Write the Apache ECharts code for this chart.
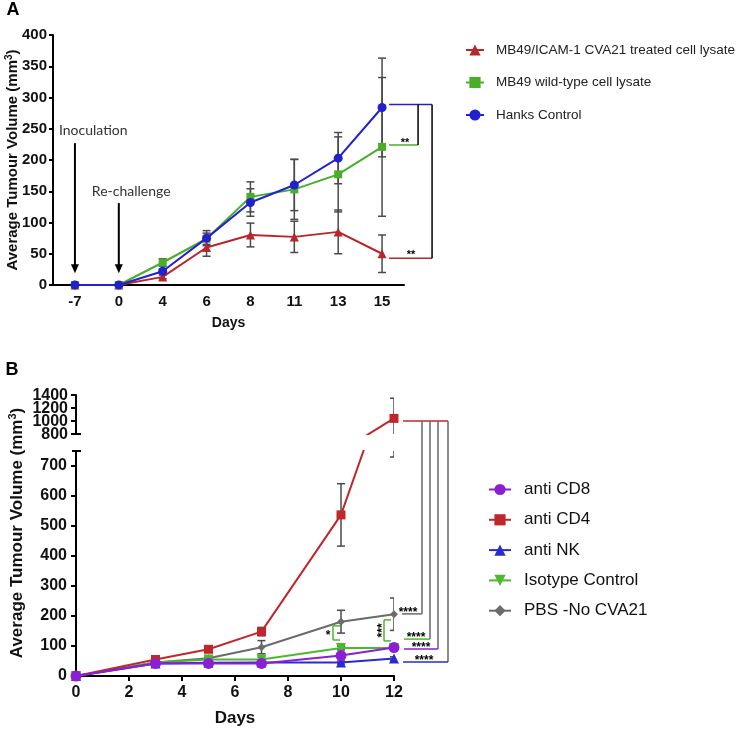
<!DOCTYPE html>
<html>
<head>
<meta charset="utf-8">
<script src="https://cdn.jsdelivr.net/npm/echarts@6/dist/echarts.min.js"></script>
<style>
html,body{margin:0;padding:0;background:#fff;}
#chart{width:744px;height:731px;}
</style>
</head>
<body>
<div id="chart"></div>
<script>
// ---------- Panel A data ----------
const daysA = ['-7', '0', '4', '6', '8', '11', '13', '15'];
const namesA = ['MB49/ICAM-1 CVA21 treated cell lysate', 'MB49 wild-type cell lysate', 'Hanks Control'];
const redA = [0, 0, 13, 60, 80, 77, 85, 50];
const greenA = [0, 0, 36, 74, 141, 153, 177, 221];
const blueA = [0, 0, 22, 75, 132, 160, 203, 284];
const redSemA = [0, 0, 3, 14, 19, 25, 35, 30];
const greenSemA = [0, 0, 6, 9, 24, 48, 60, 111];
const blueSemA = [0, 0, 4, 12, 22, 41, 41, 79];
const sigLevelsA = { blue: 289, green: 224, red: 43 };

// ---------- Panel B data ----------
const daysB = [0, 3, 5, 7, 10, 12];
const namesB = ['anti CD8', 'anti CD4', 'anti NK', 'Isotype Control', 'PBS -No CVA21'];
const cd8 = [0, 42, 42, 42, 68, 95];
const cd4 = [0, 55, 89, 148, 537, 1040];
const nk = [0, 42, 44, 45, 45, 58];
const iso = [0, 45, 55, 55, 93, 93];
const pbs = [0, 45, 59, 96, 181, 206];
const cd8Sem = [0, 4, 4, 4, 8, 8];
const cd4Sem = [0, 5, 10, 14, 104, 310];
const nkSem = [0, 3, 3, 3, 5, 6];
const isoSem = [0, 4, 6, 8, 6, 6];
const pbsSem = [0, 4, 5, 22, 38, 54];
const lowerTicksB = [0, 100, 200, 300, 400, 500, 600, 700];
const upperTicksB = [800, 1000, 1200, 1400];
const sigLevelsB = { cd4: 1000, pbs: 207, iso: 123, cd8: 90, nk: 47 };
const bracketsB = [{ day: 10, top: 167, bottom: 120, stars: '*' }, { day: 12, top: 187, bottom: 117, stars: '***' }];

const FONT = "'Liberation Sans', Arial, Helvetica, sans-serif";
const C = {
  redA: '#b8262b', greenA: '#4aad2a', blueA: '#2222cc',
  cd8: '#8a1fd4', cd4: '#c0272d', nk: '#2a2ad2', iso: '#4cb82e', pbs: '#6b6b6b',
  err: '#4a4a4a'
};

const chart = echarts.init(document.getElementById('chart'), null, { renderer: 'canvas' });

function errRender(color) {
  return function (params, api) {
    const p1 = api.coord([api.value(0), api.value(1)]);
    const p2 = api.coord([api.value(0), api.value(2)]);
    const w = 4;
    const st = { stroke: color, lineWidth: 1.5 };
    return {
      type: 'group', children: [
        { type: 'line', shape: { x1: p1[0], y1: p1[1], x2: p2[0], y2: p2[1] }, style: st },
        { type: 'line', shape: { x1: p1[0] - w, y1: p1[1], x2: p1[0] + w, y2: p1[1] }, style: st },
        { type: 'line', shape: { x1: p2[0] - w, y1: p2[1], x2: p2[0] + w, y2: p2[1] }, style: st }
      ]
    };
  };
}
function errDataCat(vals, sems) {
  const out = [];
  vals.forEach((v, i) => { if (sems[i] > 0) out.push([i, v - sems[i], v + sems[i]]); });
  return out;
}
function errDataVal(xs, vals, sems) {
  const out = [];
  vals.forEach((v, i) => { if (sems[i] > 0) out.push([xs[i], v - sems[i], v + sems[i]]); });
  return out;
}
function pairs(xs, ys) { return xs.map((x, i) => [x, ys[i]]); }

const axisLineStyle = { color: '#000', width: 2 };
const tickStyle = { color: '#000', width: 2 };
const labelA = { fontFamily: FONT, fontWeight: 'bold', fontSize: 15, color: '#111' };
const labelB = { fontFamily: FONT, fontWeight: 'bold', fontSize: 16, color: '#111' };
const plain = v => String(v);

function lineSeries(name, data, color, symbol, size, xi, yi, z, extra) {
  return Object.assign({
    type: 'line', name: name, data: data, xAxisIndex: xi, yAxisIndex: yi,
    symbol: symbol, symbolSize: size, showSymbol: true, color: color,
    itemStyle: { color: color }, lineStyle: { color: color, width: 2 }, z: z, clip: true
  }, extra || {});
}

const option = {
  animation: false,
  backgroundColor: '#ffffff',
  grid: [
    { left: 53, top: 35, width: 351, height: 250 },
    { left: 76, top: 451, width: 318, height: 225 },
    { left: 76, top: 395, width: 318, height: 39 }
  ],
  xAxis: [
    {
      gridIndex: 0, type: 'category', data: daysA, boundaryGap: true,
      axisLine: { lineStyle: axisLineStyle },
      axisTick: { alignWithLabel: true, length: 5, lineStyle: tickStyle },
      axisLabel: Object.assign({ margin: 9, interval: 0 }, labelA),
      splitLine: { show: false },
      name: 'Days', nameLocation: 'middle', nameGap: 31,
      nameTextStyle: { fontFamily: FONT, fontWeight: 'bold', fontSize: 14, color: '#111' }
    },
    {
      gridIndex: 1, type: 'value', min: 0, max: 12, interval: 2,
      axisLine: { show: true, onZero: false, lineStyle: axisLineStyle },
      axisTick: { show: true, length: 5, lineStyle: tickStyle },
      axisLabel: Object.assign({ margin: 9, formatter: plain }, labelB),
      splitLine: { show: false },
      name: 'Days', nameLocation: 'middle', nameGap: 34,
      nameTextStyle: { fontFamily: FONT, fontWeight: 'bold', fontSize: 17, color: '#111' }
    },
    { gridIndex: 2, type: 'value', min: 0, max: 12, show: false }
  ],
  yAxis: [
    {
      gridIndex: 0, type: 'value', min: 0, max: 400, interval: 50,
      axisLine: { show: true, lineStyle: axisLineStyle },
      axisTick: { show: true, length: 4, lineStyle: tickStyle },
      axisLabel: Object.assign({ margin: 6, formatter: plain }, labelA),
      splitLine: { show: false }
    },
    {
      gridIndex: 1, type: 'value', min: 0, max: 750, interval: 100,
      axisLine: { show: true, onZero: false, lineStyle: axisLineStyle },
      axisTick: { show: true, length: 5, lineStyle: tickStyle, customValues: lowerTicksB },
      axisLabel: Object.assign({ margin: 9, customValues: lowerTicksB, formatter: plain, hideOverlap: false }, labelB),
      splitLine: { show: false }
    },
    {
      gridIndex: 2, type: 'value', min: 800, max: 1400, interval: 200,
      axisLine: { show: true, onZero: false, lineStyle: axisLineStyle },
      axisTick: { show: true, length: 5, lineStyle: tickStyle, customValues: upperTicksB },
      axisLabel: { show: false },
      splitLine: { show: false }
    }
  ],
  legend: [
    {
      left: 460, top: 38, orient: 'vertical', itemWidth: 18, itemHeight: 14, itemGap: 18.5,
      data: namesA, selectedMode: false,
      textStyle: { fontFamily: FONT, fontSize: 13.5, color: '#222', lineHeight: 14, padding: [0, 0, 0, 7] }
    },
    {
      left: 483, top: 476, orient: 'vertical', itemWidth: 22, itemHeight: 14, itemGap: 13.3,
      data: namesB, selectedMode: false,
      textStyle: { fontFamily: FONT, fontSize: 17, color: '#111', lineHeight: 14, padding: [0, 0, 0, 8] }
    }
  ],
  series: [
    // Panel A error bars
    { type: 'custom', xAxisIndex: 0, yAxisIndex: 0, renderItem: errRender(C.err), data: errDataCat(redA, redSemA), encode: { x: 0, y: [1, 2] }, z: 1 },
    { type: 'custom', xAxisIndex: 0, yAxisIndex: 0, renderItem: errRender(C.err), data: errDataCat(greenA, greenSemA), encode: { x: 0, y: [1, 2] }, z: 1 },
    { type: 'custom', xAxisIndex: 0, yAxisIndex: 0, renderItem: errRender(C.err), data: errDataCat(blueA, blueSemA), encode: { x: 0, y: [1, 2] }, z: 1 },
    // Panel A lines
    lineSeries(namesA[0], redA, C.redA, 'triangle', 9, 0, 0, 3),
    lineSeries(namesA[1], greenA, C.greenA, 'rect', 8, 0, 0, 4),
    lineSeries(namesA[2], blueA, C.blueA, 'circle', 9, 0, 0, 5),
    // Panel B error bars (lower)
    { type: 'custom', xAxisIndex: 1, yAxisIndex: 1, clip: true, renderItem: errRender(C.err), data: errDataVal(daysB, pbs, pbsSem), encode: { x: 0, y: [1, 2] }, z: 1 },
    { type: 'custom', xAxisIndex: 1, yAxisIndex: 1, clip: true, renderItem: errRender(C.err), data: errDataVal(daysB, iso, isoSem), encode: { x: 0, y: [1, 2] }, z: 1 },
    { type: 'custom', xAxisIndex: 1, yAxisIndex: 1, clip: true, renderItem: errRender(C.err), data: errDataVal(daysB, nk, nkSem), encode: { x: 0, y: [1, 2] }, z: 1 },
    { type: 'custom', xAxisIndex: 1, yAxisIndex: 1, clip: true, renderItem: errRender(C.err), data: errDataVal(daysB, cd4, cd4Sem), encode: { x: 0, y: [1, 2] }, z: 1 },
    { type: 'custom', xAxisIndex: 1, yAxisIndex: 1, clip: true, renderItem: errRender(C.err), data: errDataVal(daysB, cd8, cd8Sem), encode: { x: 0, y: [1, 2] }, z: 1 },
    // Panel B error bars (upper part of broken axis)
    { type: 'custom', xAxisIndex: 2, yAxisIndex: 2, clip: true, renderItem: errRender(C.err), data: errDataVal(daysB, cd4, cd4Sem), encode: { x: 0, y: [1, 2] }, z: 1 },
    // Panel B lines
    lineSeries(namesB[4], pairs(daysB, pbs), C.pbs, 'diamond', 8, 1, 1, 3),
    lineSeries(namesB[3], pairs(daysB, iso), C.iso, 'triangle', 10, 1, 1, 4, { symbolRotate: 180 }),
    lineSeries(namesB[2], pairs(daysB, nk), C.nk, 'triangle', 10, 1, 1, 5),
    lineSeries(namesB[1], pairs(daysB, cd4), C.cd4, 'rect', 9, 1, 1, 6),
    lineSeries(namesB[0], pairs(daysB, cd8), C.cd8, 'circle', 11, 1, 1, 7),
    lineSeries(namesB[1], pairs(daysB, cd4), C.cd4, 'rect', 9, 2, 2, 6)
  ]
};
chart.setOption(option);

// ---------- Annotations positioned through the axes ----------
const pA = (i, v) => chart.convertToPixel({ xAxisIndex: 0, yAxisIndex: 0 }, [i, v]);
const pBL = (d, v) => chart.convertToPixel({ xAxisIndex: 1, yAxisIndex: 1 }, [d, v]);
const pBU = (d, v) => chart.convertToPixel({ xAxisIndex: 2, yAxisIndex: 2 }, [d, v]);

const g = [];
function L(x1, y1, x2, y2, color, w) {
  g.push({ type: 'line', silent: true, z: 50, shape: { x1, y1, x2, y2 }, style: { stroke: color, lineWidth: w || 1.5 } });
}
function T(x, y, text, font, color, align, valign, rot, rich) {
  const el = {
    type: 'text', silent: true, z: 50, x: x, y: y, rotation: rot || 0,
    style: { text: text, font: font, fill: color, align: align || 'center', verticalAlign: valign || 'middle', textAlign: align || 'center', textVerticalAlign: valign || 'middle' }
  };
  if (rich) el.style.rich = rich;
  g.push(el);
}
function arrow(x, yTop, yTip) {
  L(x, yTop, x, yTip - 7, '#000', 2);
  g.push({ type: 'polygon', silent: true, z: 50, shape: { points: [[x, yTip], [x - 4, yTip - 9], [x + 4, yTip - 9]] }, style: { fill: '#000' } });
}

// Panel labels
T(13, 10, 'A', 'bold 18px ' + FONT, '#000');
T(12, 370, 'B', 'bold 18px ' + FONT, '#000');

// Y axis titles
T(13, 160, '{a|Average Tumour Volume (mm}{s|3}{a|)}', '', '#111', 'center', 'middle', Math.PI / 2, {
  a: { font: 'bold 15px ' + FONT, fill: '#111', lineHeight: 17 },
  s: { font: 'bold 10px ' + FONT, fill: '#111', lineHeight: 10, verticalAlign: 'top' }
});
T(17, 533, '{a|Average Tumour Volume (mm}{s|3}{a|)}', '', '#111', 'center', 'middle', Math.PI / 2, {
  a: { font: 'bold 17px ' + FONT, fill: '#111', lineHeight: 19 },
  s: { font: 'bold 11px ' + FONT, fill: '#111', lineHeight: 11, verticalAlign: 'top' }
});

// Upper broken-axis tick labels (tightly packed, placed through the axis scale)
upperTicksB.forEach(v => {
  const p = pBU(0, v);
  L(p[0] - 5, p[1], p[0], p[1], '#000', 2);
  T(p[0] - 8, p[1] + 0.5, String(v), 'bold 16px ' + FONT, '#111', 'right', 'middle');
});

// Panel A arrows and notes
const inoc = pA(0, 227), inocTip = pA(0, 19);
arrow(inoc[0], inoc[1], inocTip[1]);
const rech = pA(1, 131), rechTip = pA(1, 19);
arrow(rech[0], rech[1], rechTip[1]);
const inocTxt = pA(0, 248);
T(inocTxt[0] - 16, inocTxt[1], 'Inoculation', '14px Lato, ' + FONT, '#333', 'left');
const rechTxt = pA(1, 150);
T(rechTxt[0] - 27, rechTxt[1], 'Re-challenge', '14px Lato, ' + FONT, '#333', 'left');

// Panel A significance brackets
const x15 = pA(7, 0)[0];
const yB = pA(7, sigLevelsA.blue)[1], yG = pA(7, sigLevelsA.green)[1], yR = pA(7, sigLevelsA.red)[1];
L(x15 + 7, yB, x15 + 50, yB, C.blueA);
L(x15 + 7, yG, x15 + 36, yG, C.greenA);
L(x15 + 36, yB, x15 + 36, yG, '#000');
L(x15 + 7, yR, x15 + 50, yR, C.redA);
L(x15 + 50, yB, x15 + 50, yR, '#000');
T(x15 + 23, yG - 2, '**', 'bold 11px ' + FONT, '#000');
T(x15 + 29, yR - 3, '**', 'bold 11px ' + FONT, '#000');

// Panel B broken-axis caps
const capL = pBL(0, 750);
L(capL[0] - 4, capL[1], capL[0] + 5, capL[1], '#000', 2);
const capU = pBU(0, 800);
L(capU[0], capU[1], capU[0] + 5, capU[1], '#000', 2);

// Panel B significance lines
const x12 = pBL(12, 0)[0];
const yC4 = pBU(12, sigLevelsB.cd4)[1];
L(x12 + 9, yC4, x12 + 54, yC4, C.cd4);
const sigB = [
  { lvl: sigLevelsB.pbs, vx: 28, hx: 8, color: C.pbs, tx: 14 },
  { lvl: sigLevelsB.iso, vx: 36, hx: 10, color: C.iso, tx: 22 },
  { lvl: sigLevelsB.cd8, vx: 44, hx: 10, color: C.cd8, tx: 27 },
  { lvl: sigLevelsB.nk, vx: 54, hx: 9, color: C.nk, tx: 30 }
];
sigB.forEach(s => {
  const y = pBL(12, s.lvl)[1];
  L(x12 + s.vx, yC4, x12 + s.vx, y, '#666');
  L(x12 + s.hx, y, x12 + s.vx, y, s.color);
  T(x12 + s.tx, y - 1.5, '****', 'bold 12px ' + FONT, '#000');
});

// Panel B green brackets at day 10 and 12
bracketsB.forEach((b, k) => {
  const px = pBL(b.day, 0)[0];
  const yt = pBL(b.day, b.top)[1], yb = pBL(b.day, b.bottom)[1];
  const bx = px - (k === 0 ? 8 : 10);
  L(bx, yt, bx + 7, yt, C.iso);
  L(bx, yt, bx, yb, C.iso);
  L(bx, yb, bx + 7, yb, C.iso);
  if (b.stars.length === 1) {
    T(bx - 5, (yt + yb) / 2 + 3, b.stars, 'bold 12px ' + FONT, '#000');
  } else {
    T(bx - 1, (yt + yb) / 2, b.stars, 'bold 12px ' + FONT, '#000', 'center', 'middle', Math.PI / 2);
  }
});

chart.setOption({ graphic: g });
</script>
</body>
</html>
